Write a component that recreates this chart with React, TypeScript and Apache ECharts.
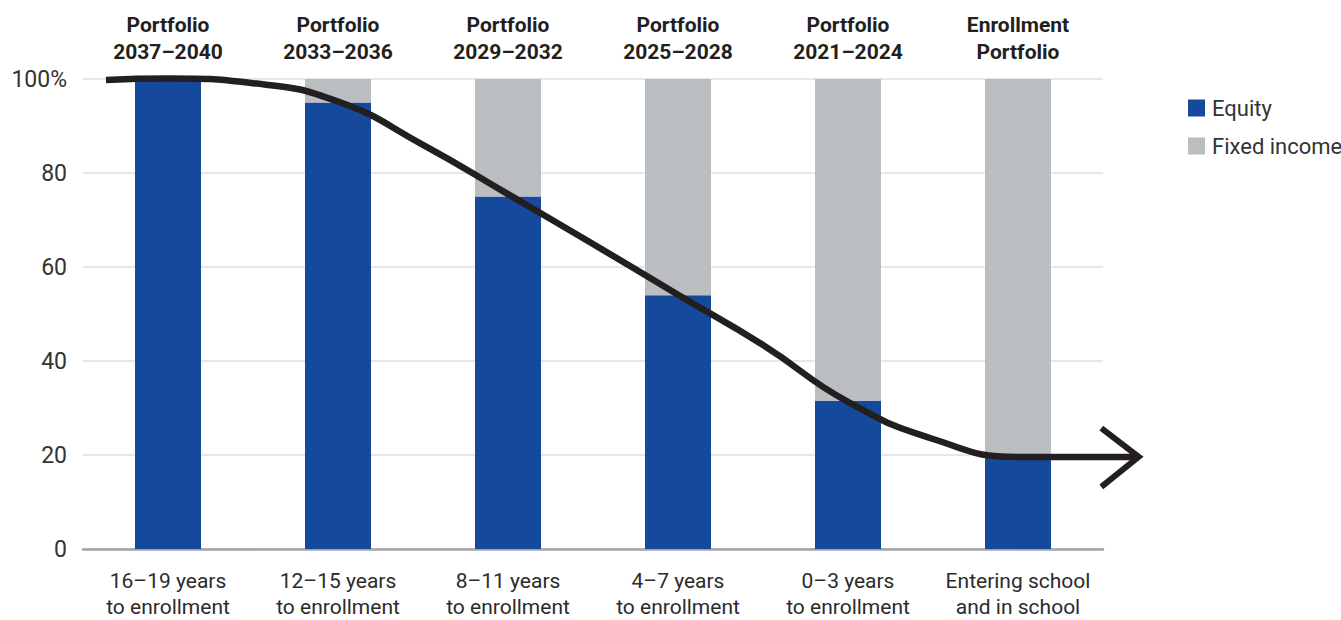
import React, { useEffect, useRef } from "react";
import * as echarts from "echarts";

const bottomLabels = [
  "16–19 years\nto enrollment",
  "12–15 years\nto enrollment",
  "8–11 years\nto enrollment",
  "4–7 years\nto enrollment",
  "0–3 years\nto enrollment",
  "Entering school\nand in school",
];
const topLabels = [
  "Portfolio\n2037–2040",
  "Portfolio\n2033–2036",
  "Portfolio\n2029–2032",
  "Portfolio\n2025–2028",
  "Portfolio\n2021–2024",
  "Enrollment\nPortfolio",
];
const equity = [100, 95, 75, 54, 31.5, 20];
const fixedIncome = [0, 5, 25, 46, 68.5, 80];

// glide path curve, x in category units (0..6), y in %
const glidePath: [number, number][] = [
  [0.135, 99.8],
  [0.5, 100.1],
  [1.0, 99.1],
  [1.5, 95.2],
  [2.0, 86.0],
  [2.5, 75.5],
  [3.0, 64.9],
  [3.5, 54.1],
  [4.0, 43.4],
  [4.5, 31.3],
  [5.0, 23.4],
  [5.5, 19.6],
  [6.21, 19.6],
];
const arrowHead: [number, number][] = [
  [5.99, 25.7],
  [6.21, 19.6],
  [5.99, 13.2],
];

const FONT = "Roboto";

export default function App() {
  const ref = useRef<HTMLDivElement>(null);
  useEffect(() => {
    document.body.style.margin = "0";
    const chart = echarts.init(ref.current!, null, { renderer: "svg" });
    chart.setOption({
      animation: false,
      textStyle: { fontFamily: FONT },
      legend: {
        orient: "vertical",
        left: 1183,
        top: 92,
        itemWidth: 17,
        itemHeight: 17,
        itemGap: 16,
        icon: "rect",
        data: ["Equity", "Fixed income"],
        textStyle: { fontSize: 22, color: "#333", fontFamily: FONT, padding: [0, 0, 0, 2] },
      },
      grid: [
        { left: 83, right: 238, top: 79, bottom: 71 },
        { left: 83, right: 187, top: 79, bottom: 71 },
      ],
      xAxis: [
        {
          type: "category",
          gridIndex: 0,
          data: bottomLabels,
          position: "bottom",
          axisLine: { show: true, lineStyle: { color: "#a3a3a3", width: 2.5 } },
          axisTick: { show: false },
          axisLabel: {
            interval: 0,
            fontSize: 21,
            lineHeight: 26,
            color: "#2b2b2b",
            margin: 19,
            fontFamily: FONT,
          },
        },
        {
          type: "category",
          gridIndex: 0,
          data: topLabels,
          position: "top",
          axisLine: { show: false },
          axisTick: { show: false },
          axisLabel: {
            interval: 0,
            fontSize: 21,
            fontWeight: "bold",
            lineHeight: 27,
            color: "#231f20",
            margin: 14,
            fontFamily: FONT,
          },
        },
        {
          type: "value",
          gridIndex: 1,
          min: 0,
          max: 6.3,
          show: false,
        },
      ],
      yAxis: [
        {
          type: "value",
          gridIndex: 0,
          min: 0,
          max: 100,
          interval: 20,
          axisLine: { show: false },
          axisTick: { show: false },
          splitLine: { lineStyle: { color: "#dde0e0", width: 1.5 } },
          axisLabel: {
            fontSize: 23,
            color: "#333",
            margin: 16,
            fontFamily: FONT,
            formatter: (v: number) => (v === 100 ? "100%" : String(v)),
          },
        },
        {
          type: "value",
          gridIndex: 1,
          min: 0,
          max: 100,
          show: false,
        },
      ],
      series: [
        {
          name: "Equity",
          type: "bar",
          stack: "a",
          xAxisIndex: 0,
          yAxisIndex: 0,
          barWidth: 66,
          itemStyle: { color: "#15499b" },
          data: equity,
        },
        {
          name: "Fixed income",
          type: "bar",
          stack: "a",
          xAxisIndex: 0,
          yAxisIndex: 0,
          barWidth: 66,
          itemStyle: { color: "#bbbec1" },
          data: fixedIncome,
        },
        {
          name: "glide",
          type: "line",
          xAxisIndex: 2,
          yAxisIndex: 1,
          smooth: 0.5,
          symbol: "none",
          clip: false,
          z: 10,
          lineStyle: { color: "#231f20", width: 6.5 },
          data: glidePath,
        },
        {
          name: "arrow",
          type: "line",
          xAxisIndex: 2,
          yAxisIndex: 1,
          symbol: "none",
          clip: false,
          z: 10,
          lineStyle: { color: "#231f20", width: 6, join: "miter" },
          data: arrowHead,
        },
      ],
    });
    return () => chart.dispose();
  }, []);
  return <div ref={ref} style={{ width: 1341, height: 620 }} />;
}
